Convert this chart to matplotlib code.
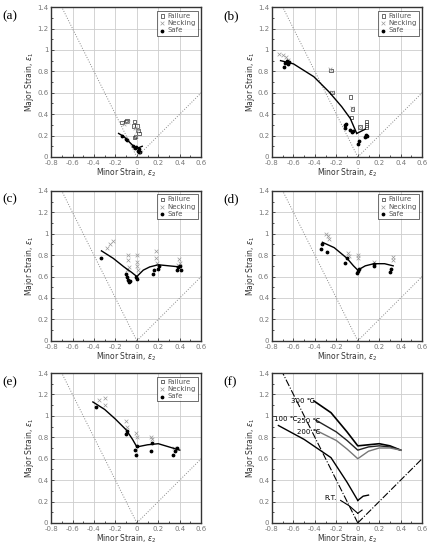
import numpy as np
import matplotlib.pyplot as plt
from matplotlib.ticker import MultipleLocator

plt.rcParams['font.family'] = ['DejaVu Sans']

x_ticks = [-0.8, -0.6, -0.4, -0.2, 0, 0.2, 0.4, 0.6]
y_ticks = [0, 0.2, 0.4, 0.6, 0.8, 1, 1.2, 1.4]
panel_names = ['(a)', '(b)', '(c)', '(d)', '(e)', '(f)']

# (a)
a_fail_x = [-0.14, -0.10, -0.09, -0.03, -0.02, 0.0, 0.02, -0.01, 0.01, -0.02]
a_fail_y = [0.32, 0.33, 0.34, 0.29, 0.33, 0.29, 0.22, 0.19, 0.25, 0.18]
a_neck_x = [-0.12, -0.08, -0.02, 0.0, 0.01, -0.01]
a_neck_y = [0.31, 0.33, 0.27, 0.24, 0.26, 0.20]
a_safe_x = [-0.14, -0.10, -0.09, -0.04, -0.02, -0.01, 0.01, 0.02, 0.03, 0.02]
a_safe_y = [0.20, 0.17, 0.16, 0.10, 0.08, 0.09, 0.06, 0.05, 0.05, 0.07]
a_curve_x = [-0.17, -0.12, -0.06, -0.02, 0.0]
a_curve_y = [0.22, 0.19, 0.13, 0.09, 0.08]
a_curve2_x = [0.0, 0.05]
a_curve2_y = [0.08, 0.10]

# (b)
b_fail_x = [-0.25, -0.24, -0.07, -0.05, -0.06, 0.02, 0.08, 0.08, 0.08]
b_fail_y = [0.81, 0.60, 0.56, 0.45, 0.37, 0.28, 0.33, 0.30, 0.28]
b_neck_x = [-0.73, -0.70, -0.67, -0.65, -0.26, -0.24, -0.05, 0.02]
b_neck_y = [0.96, 0.95, 0.93, 0.91, 0.82, 0.61, 0.46, 0.28]
b_safe_x = [-0.69, -0.68, -0.66, -0.65, -0.64, -0.12, -0.12, -0.11, -0.07, -0.05, -0.04, 0.01, 0.0, 0.07, 0.08, 0.09]
b_safe_y = [0.84, 0.88, 0.90, 0.87, 0.89, 0.27, 0.30, 0.31, 0.25, 0.23, 0.24, 0.15, 0.12, 0.19, 0.21, 0.20]
b_curve_x = [-0.72, -0.6, -0.41, -0.27, -0.15, -0.07, -0.01]
b_curve_y = [0.90, 0.87, 0.75, 0.61, 0.47, 0.36, 0.22]
b_curve2_x = [-0.01, 0.03, 0.07]
b_curve2_y = [0.22, 0.24, 0.26]

# (c)
c_fail_x = []
c_fail_y = []
c_neck_x = [-0.28, -0.25, -0.22, -0.08, -0.08, -0.07, -0.09, 0.0, 0.0, 0.0, 0.01, 0.18, 0.18, 0.19, 0.39, 0.40, 0.38]
c_neck_y = [0.87, 0.90, 0.93, 0.80, 0.75, 0.69, 0.66, 0.80, 0.74, 0.70, 0.66, 0.84, 0.77, 0.73, 0.76, 0.73, 0.71]
c_safe_x = [-0.33, -0.10, -0.08, -0.07, -0.06, -0.09, -0.01, 0.0, 0.15, 0.16, 0.20, 0.21, 0.37, 0.38, 0.41, 0.40]
c_safe_y = [0.77, 0.62, 0.57, 0.55, 0.56, 0.60, 0.60, 0.58, 0.62, 0.66, 0.67, 0.70, 0.66, 0.69, 0.66, 0.70]
c_curve_x = [-0.33, -0.22, -0.12, -0.05, 0.0]
c_curve_y = [0.84, 0.77, 0.69, 0.64, 0.60]
c_curve2_x = [0.0, 0.06, 0.12, 0.2, 0.3, 0.4]
c_curve2_y = [0.60, 0.66, 0.69, 0.71, 0.70, 0.69]

# (d)
d_fail_x = []
d_fail_y = []
d_neck_x = [-0.30, -0.28, -0.27, -0.09, -0.08, 0.0, 0.0, 0.15, 0.33, 0.33]
d_neck_y = [1.0, 0.98, 0.95, 0.82, 0.79, 0.80, 0.77, 0.74, 0.78, 0.75]
d_safe_x = [-0.34, -0.33, -0.29, -0.12, -0.10, -0.01, 0.0, 0.01, 0.15, 0.15, 0.30, 0.31]
d_safe_y = [0.86, 0.90, 0.83, 0.73, 0.77, 0.63, 0.65, 0.67, 0.70, 0.72, 0.64, 0.67]
d_curve_x = [-0.33, -0.22, -0.1, -0.04, 0.0]
d_curve_y = [0.92, 0.87, 0.77, 0.70, 0.66]
d_curve2_x = [0.0, 0.07, 0.15, 0.25, 0.33]
d_curve2_y = [0.66, 0.70, 0.72, 0.72, 0.70]

# (e)
e_fail_x = []
e_fail_y = []
e_neck_x = [-0.35, -0.30, -0.30, -0.10, -0.09, -0.01, 0.0, 0.13, 0.14, 0.35]
e_neck_y = [1.15, 1.17, 1.10, 0.95, 0.90, 0.84, 0.80, 0.80, 0.78, 0.70]
e_safe_x = [-0.38, -0.10, -0.09, -0.01, -0.02, 0.0, 0.13, 0.14, 0.34, 0.36, 0.37]
e_safe_y = [1.08, 0.83, 0.86, 0.63, 0.68, 0.72, 0.67, 0.75, 0.63, 0.67, 0.70]
e_curve_x = [-0.41, -0.3, -0.2, -0.1, -0.04, 0.0]
e_curve_y = [1.13, 1.06, 0.97, 0.87, 0.78, 0.71]
e_curve2_x = [0.0, 0.1, 0.2, 0.3, 0.4]
e_curve2_y = [0.71, 0.73, 0.74, 0.71, 0.68]

# (f) fitted FLCs
f_300_x = [-0.41, -0.25, -0.1, 0.0, 0.1, 0.2, 0.3, 0.4]
f_300_y = [1.14, 1.03, 0.85, 0.72, 0.73, 0.74, 0.72, 0.68]
f_250_x = [-0.39, -0.2, -0.1, 0.0, 0.1, 0.2, 0.3, 0.4]
f_250_y = [0.96, 0.85, 0.77, 0.68, 0.71, 0.72, 0.71, 0.68]
f_200_x = [-0.40, -0.2, -0.1, 0.0, 0.1, 0.2, 0.3, 0.4]
f_200_y = [0.87, 0.77, 0.69, 0.60, 0.67, 0.70, 0.70, 0.68]
f_100_x = [-0.74, -0.5, -0.25, -0.1, 0.0]
f_100_y = [0.91, 0.78, 0.61, 0.38, 0.21]
f_100b_x = [0.0, 0.05, 0.1]
f_100b_y = [0.21, 0.25, 0.26]
f_rt_x = [-0.16, -0.08, 0.0]
f_rt_y = [0.21, 0.16, 0.09]
f_rtb_x = [0.0, 0.04]
f_rtb_y = [0.09, 0.12]
f_labels = ['300 \u2103', '250 \u2103', '200 \u2103', '100 \u2103', 'R.T.']
f_label_x = [-0.62, -0.57, -0.57, -0.78, -0.31]
f_label_y = [1.14, 0.95, 0.85, 0.97, 0.23]

fig = plt.figure(figsize=(4.29, 5.47), dpi=100)
lefts = [0.119, 0.634]
bottoms = [0.713, 0.377, 0.044]
W, H = 0.350, 0.274

scatter_sets = [
    (a_fail_x, a_fail_y, a_neck_x, a_neck_y, a_safe_x, a_safe_y, [(a_curve_x, a_curve_y), (a_curve2_x, a_curve2_y)]),
    (b_fail_x, b_fail_y, b_neck_x, b_neck_y, b_safe_x, b_safe_y, [(b_curve_x, b_curve_y), (b_curve2_x, b_curve2_y)]),
    (c_fail_x, c_fail_y, c_neck_x, c_neck_y, c_safe_x, c_safe_y, [(c_curve_x, c_curve_y), (c_curve2_x, c_curve2_y)]),
    (d_fail_x, d_fail_y, d_neck_x, d_neck_y, d_safe_x, d_safe_y, [(d_curve_x, d_curve_y), (d_curve2_x, d_curve2_y)]),
    (e_fail_x, e_fail_y, e_neck_x, e_neck_y, e_safe_x, e_safe_y, [(e_curve_x, e_curve_y), (e_curve2_x, e_curve2_y)]),
]


def style_axes(ax, dashdot=False):
    ax.set_xlim(-0.8, 0.6)
    ax.set_ylim(0, 1.4)
    ax.set_xticks(x_ticks)
    ax.set_yticks(y_ticks)
    ax.set_xticklabels(['%g' % v for v in x_ticks])
    ax.set_yticklabels(['%g' % v for v in y_ticks])
    ax.xaxis.set_minor_locator(MultipleLocator(0.1))
    ax.yaxis.set_minor_locator(MultipleLocator(0.1))
    ax.tick_params(which='both', direction='in', labelsize=5, colors='#333333',
                   labelcolor='#777777', length=2, width=0.6, pad=2)
    ax.tick_params(which='minor', length=1.5)
    ax.grid(True, color='#cccccc', linewidth=0.6)
    ax.set_axisbelow(True)
    for s in ax.spines.values():
        s.set_linewidth(1.0)
        s.set_color('#333333')
    ax.set_xlabel('Minor Strain, $\\varepsilon_2$', fontsize=5.5, labelpad=0.5, color='#333333')
    ax.set_ylabel('Major Strain, $\\varepsilon_1$', fontsize=5.5, labelpad=1.0, color='#333333')
    # uniaxial and equibiaxial reference paths
    if dashdot:
        ax.plot([0, -0.7], [0, 1.4], color='black', linestyle='-.', linewidth=0.8)
        ax.plot([0, 0.6], [0, 0.6], color='black', linestyle='-.', linewidth=0.8)
    else:
        ax.plot([0, -0.7], [0, 1.4], color='#888888', linestyle=':', linewidth=0.7)
        ax.plot([0, 0.6], [0, 0.6], color='#888888', linestyle=':', linewidth=0.7)


for i in range(6):
    ax = fig.add_axes([lefts[i % 2], bottoms[i // 2], W, H])
    fig.text(lefts[i % 2] - 0.114, bottoms[i // 2] + H - 0.016, panel_names[i],
             fontsize=9.5, family='Liberation Serif', va='center')
    if i < 5:
        style_axes(ax)
        fx, fy, nx, ny, sx, sy, curves = scatter_sets[i]
        for cx, cy in curves:
            ax.plot(cx, cy, color='black', linewidth=1.0)
        ax.scatter(fx, fy, marker='s', s=6, facecolor='none', edgecolor='#333333', linewidth=0.5, label='Failure')
        ax.scatter(nx, ny, marker='x', s=7, color='#999999', linewidth=0.5, label='Necking')
        ax.scatter(sx, sy, marker='o', s=3, color='black', label='Safe')
        leg = ax.legend(loc='upper right', fontsize=5, frameon=True, fancybox=False,
                        edgecolor='black', handletextpad=0.2, borderpad=0.3,
                        labelspacing=0.2, handlelength=1.0, borderaxespad=0.5)
        leg.get_frame().set_linewidth(0.5)
        for t in leg.get_texts():
            t.set_color('#555555')
    else:
        style_axes(ax, dashdot=True)
        ax.plot(f_300_x, f_300_y, color='black', linewidth=1.2)
        ax.plot(f_250_x, f_250_y, color='#222222', linewidth=1.0)
        ax.plot(f_200_x, f_200_y, color='#777777', linewidth=1.0)
        ax.plot(f_100_x, f_100_y, color='black', linewidth=1.0)
        ax.plot(f_100b_x, f_100b_y, color='black', linewidth=1.0)
        ax.plot(f_rt_x, f_rt_y, color='black', linewidth=0.8)
        ax.plot(f_rtb_x, f_rtb_y, color='black', linewidth=0.8)
        for lab, lx, ly in zip(f_labels, f_label_x, f_label_y):
            ax.text(lx, ly, lab, fontsize=5, va='center')

fig.savefig('out.png', dpi=100)
